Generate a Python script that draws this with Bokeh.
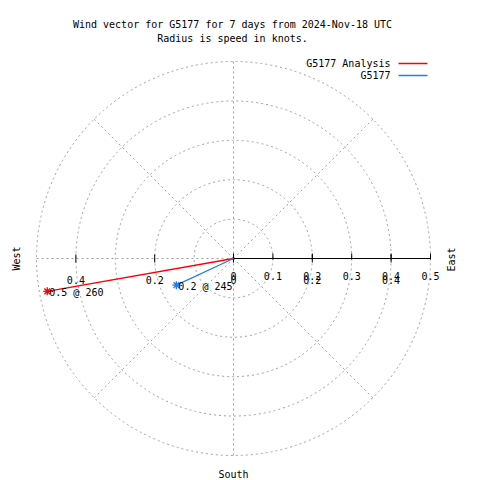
import numpy as np
from bokeh.plotting import figure
from bokeh.models import Range1d, ColumnDataSource
from bokeh.core.properties import value
from bokeh.embed import file_html
from bokeh.resources import INLINE

# ---------------- data ----------------
series_names = ["G5177 Analysis", "G5177"]
speeds = [0.48, 0.16]          # knots
directions = [260, 245]        # compass degrees
series_colors = ["#ff0000", "#1e80f0"]

ring_radii = [0.1, 0.2, 0.3, 0.4, 0.5]
spoke_angles = [45, 90, 135, 180, 225, 270, 315]
r_ticks = [0.0, 0.1, 0.2, 0.3, 0.4, 0.5]
r_tick_labels = ["0", "0.1", "0.2", "0.3", "0.4", "0.5"]
x_ticks = [-0.4, -0.2, 0.0, 0.2, 0.4]
x_tick_labels = ["0.4", "0.2", "0", "0.2", "0.4"]
title_lines = ["Wind vector for G5177 for 7 days from 2024-Nov-18 UTC",
               "Radius is speed in knots."]
compass_names = ["West", "East", "South"]

# ---------------- layout helpers ----------------
S = 394.0              # pixels per knot
CX, CY = 233.0, 258.0  # pixel of origin
W = H = 480
OX = OY = 0            # figure origin in picture pixels

def X(px):
    return (px - CX) / S

def Y(py):
    return (CY - py) / S

FONT = value("DejaVu Sans Mono")
FS = "10px"
GRAY = "#a0a0a0"

p = figure(width=W, height=H, output_backend="svg", toolbar_location=None,
           x_range=Range1d(X(OX), X(OX + W)), y_range=Range1d(Y(OY + H), Y(OY)),
           x_axis_type=None, y_axis_type=None, min_border=0,
           outline_line_color=None, background_fill_color="white",
           border_fill_color="white")
p.xgrid.visible = False
p.ygrid.visible = False

rmax = max(ring_radii)

# grid rings
p.circle(x=[0] * len(ring_radii), y=[0] * len(ring_radii), radius=ring_radii,
         fill_color=None, line_color=GRAY, line_width=1, line_dash="2 3")

# spokes
ang = np.radians(spoke_angles)
p.segment(x0=[0] * len(ang), y0=[0] * len(ang),
          x1=list(rmax * np.cos(ang)), y1=list(rmax * np.sin(ang)),
          line_color=GRAY, line_width=1, line_dash="2 3")

# radial axis
p.segment(x0=[0], y0=[0], x1=[rmax], y1=[0], line_color="black", line_width=1)
p.segment(x0=r_ticks, y0=[Y(CY + 1)] * len(r_ticks), x1=r_ticks,
          y1=[Y(CY - 5)] * len(r_ticks), line_color="black", line_width=1)
p.segment(x0=x_ticks, y0=[Y(CY + 4)] * len(x_ticks), x1=x_ticks,
          y1=[Y(CY - 4)] * len(x_ticks), line_color="black", line_width=1)

p.text(x=r_ticks, y=[Y(275)] * len(r_ticks), text=r_tick_labels,
       text_font=FONT, text_font_size=FS, text_align="center",
       text_baseline="alphabetic", text_color="black")
p.text(x=x_ticks, y=[Y(279)] * len(x_ticks), text=x_tick_labels,
       text_font=FONT, text_font_size=FS, text_align="center",
       text_baseline="alphabetic", text_color="black")

# compass labels
p.text(x=[X(16), X(451)], y=[Y(258), Y(259)], text=compass_names[:2],
       angle=np.pi / 2, text_font=FONT, text_font_size=FS,
       text_align="center", text_baseline="middle", text_color="black")
p.text(x=[X(233)], y=[Y(474)], text=[compass_names[2]], text_font=FONT,
       text_font_size=FS, text_align="center", text_baseline="alphabetic",
       text_color="black")

# title
p.text(x=[X(232), X(232)], y=[Y(24), Y(37.5)], text=title_lines,
       text_font=FONT, text_font_size=FS, text_align="center",
       text_baseline="alphabetic", text_color="black")

# wind vectors
theta = np.radians(90 - np.array(directions, dtype=float))
vx = list(np.array(speeds) * np.cos(theta))
vy = list(np.array(speeds) * np.sin(theta))
labels = [f"{s:.1f} @ {d}" for s, d in zip(speeds, directions)]
src = ColumnDataSource(dict(x0=[0] * len(speeds), y0=[0] * len(speeds),
                            x=vx, y=vy, color=series_colors, label=labels))
p.segment(x0="x0", y0="y0", x1="x", y1="y", line_color="color",
          line_width=1.3, source=src)
p.scatter(x="x", y="y", marker="asterisk", size=8, line_color="color",
          line_width=1.3, source=src)
p.text(x="x", y="y", text="label", x_offset=2, y_offset=1, text_font=FONT,
       text_font_size=FS, text_align="left", text_baseline="alphabetic",
       text_color="black", source=src)

# legend (text right, line sample at right)
for i, (name, col) in enumerate(zip(series_names, series_colors)):
    ypx = 63 + 12 * i
    p.text(x=[X(390)], y=[Y(ypx)], text=[name], text_font=FONT,
           text_font_size=FS, text_align="right", text_baseline="middle",
           text_color="black")
    p.segment(x0=[X(398)], y0=[Y(ypx)], x1=[X(427)], y1=[Y(ypx)],
              line_color=col, line_width=1.3)

with open("out.html", "w") as f:
    f.write(file_html(p, INLINE))
